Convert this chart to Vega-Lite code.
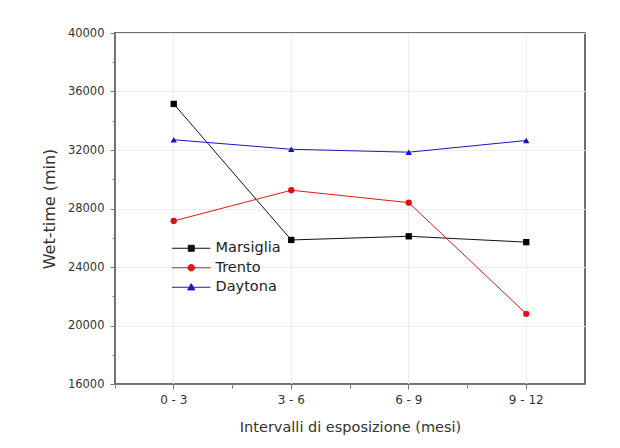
{
  "$schema": "https://vega.github.io/schema/vega-lite/v6.json",
  "width": 470,
  "height": 351,
  "autosize": {"type": "none"},
  "padding": {"left": 115, "top": 33, "right": 35, "bottom": 64},
  "background": "white",
  "config": {
    "font": "DejaVu Sans",
    "view": {"stroke": "#6f6f6f", "strokeWidth": 2},
    "axis": {"labelFont": "DejaVu Sans", "titleFont": "DejaVu Sans", "labelColor": "#333", "titleColor": "#333", "domainColor": "#777", "tickColor": "#777", "titleFontWeight": "normal"},
    "legend": {"labelFont": "DejaVu Sans"}
  },
  "data": {
    "values": [
      {"intervallo": "0 - 3", "serie": "Marsiglia", "wet": 35150},
      {"intervallo": "3 - 6", "serie": "Marsiglia", "wet": 25850},
      {"intervallo": "6 - 9", "serie": "Marsiglia", "wet": 26100},
      {"intervallo": "9 - 12", "serie": "Marsiglia", "wet": 25700},
      {"intervallo": "0 - 3", "serie": "Trento", "wet": 27150},
      {"intervallo": "3 - 6", "serie": "Trento", "wet": 29250},
      {"intervallo": "6 - 9", "serie": "Trento", "wet": 28400},
      {"intervallo": "9 - 12", "serie": "Trento", "wet": 20800},
      {"intervallo": "0 - 3", "serie": "Daytona", "wet": 32700},
      {"intervallo": "3 - 6", "serie": "Daytona", "wet": 32050},
      {"intervallo": "6 - 9", "serie": "Daytona", "wet": 31850},
      {"intervallo": "9 - 12", "serie": "Daytona", "wet": 32650}
    ]
  },
  "resolve": {"axis": {"x": "independent", "y": "independent"}},
  "layer": [
    {
      "mark": {"type": "line", "strokeWidth": 1},
      "encoding": {
        "x": {"field": "intervallo", "type": "nominal", "sort": ["0 - 3", "3 - 6", "6 - 9", "9 - 12"],
          "scale": {"type": "band", "paddingInner": 0, "paddingOuter": 0},
          "axis": {"title": "Intervalli di esposizione (mesi)", "labelAngle": 0, "labelFontSize": 12, "titleFontSize": 14.5, "tickSize": 5, "labelPadding": 5, "titlePadding": 15, "grid": true, "bandPosition": 0.5, "gridColor": "#eeeeee", "domain": true, "orient": "bottom"}},
        "y": {"field": "wet", "type": "quantitative", "scale": {"domain": [16000, 40000], "nice": false, "zero": false},
          "axis": {"title": "Wet-time (min)", "values": [16000, 20000, 24000, 28000, 32000, 36000, 40000], "format": "d", "labelFontSize": 11.5, "titleFontSize": 16, "tickSize": 5, "labelPadding": 6, "titlePadding": 10, "grid": true, "gridColor": "#eeeeee", "orient": "left"}},
        "color": {"field": "serie", "type": "nominal",
          "scale": {"domain": ["Marsiglia", "Trento", "Daytona"], "range": ["#111111", "#e01818", "#1818c0"]},
          "legend": {
            "title": null, "orient": "none", "legendX": 69, "legendY": 208, "padding": 0,
            "labelFontSize": 14.5, "labelColor": "#222", "symbolSize": 144, "symbolStrokeWidth": 1, "labelOffset": 17, "rowPadding": 4.5,
            "encode": {"symbols": {"update": {
              "shape": {"signal": "datum.value === 'Marsiglia' ? 'M-3.2,0H3.2M-0.5,-0.5H0.5V0.5H-0.5Z' : datum.value === 'Trento' ? 'M-3.2,0H3.2M0.55,0A0.55,0.55,0,1,1,-0.55,0A0.55,0.55,0,1,1,0.55,0Z' : 'M-3.2,0H3.2M0,-0.6L0.6,0.45H-0.6Z'"},
              "fill": {"signal": "datum.value === 'Marsiglia' ? '#111111' : datum.value === 'Trento' ? '#e01818' : '#1818c0'"},
              "stroke": {"signal": "datum.value === 'Marsiglia' ? '#111111' : datum.value === 'Trento' ? '#e01818' : '#1818c0'"},
              "strokeWidth": {"value": 1},
              "opacity": {"value": 1}
            }}}
          }},
        "detail": {"field": "serie"}
      }
    },
    {
      "transform": [{"filter": "datum.serie === 'Marsiglia'"}],
      "mark": {"type": "point", "filled": true, "size": 40, "opacity": 1, "shape": "square", "color": "#000000"},
      "encoding": {
        "x": {"field": "intervallo", "type": "nominal", "sort": ["0 - 3", "3 - 6", "6 - 9", "9 - 12"], "axis": null},
        "y": {"field": "wet", "type": "quantitative", "axis": null}
      }
    },
    {
      "transform": [{"filter": "datum.serie === 'Trento'"}],
      "mark": {"type": "point", "filled": true, "size": 40, "opacity": 1, "shape": "circle", "color": "#e01010"},
      "encoding": {
        "x": {"field": "intervallo", "type": "nominal", "sort": ["0 - 3", "3 - 6", "6 - 9", "9 - 12"], "axis": null},
        "y": {"field": "wet", "type": "quantitative", "axis": null}
      }
    },
    {
      "transform": [{"filter": "datum.serie === 'Daytona'"}],
      "mark": {"type": "point", "filled": true, "size": 40, "opacity": 1, "shape": "triangle-up", "color": "#1010c0"},
      "encoding": {
        "x": {"field": "intervallo", "type": "nominal", "sort": ["0 - 3", "3 - 6", "6 - 9", "9 - 12"], "axis": null},
        "y": {"field": "wet", "type": "quantitative", "axis": null}
      }
    },
    {
      "mark": {"type": "point", "opacity": 0},
      "encoding": {
        "x": {"field": "intervallo", "type": "nominal", "sort": ["0 - 3", "3 - 6", "6 - 9", "9 - 12"],
          "axis": {"orient": "bottom", "bandPosition": 0, "labels": false, "domain": false, "grid": false, "tickSize": 4, "title": null}},
        "y": {"field": "wet", "type": "quantitative",
          "axis": {"orient": "left", "values": [18000, 22000, 26000, 30000, 34000, 38000], "labels": false, "domain": false, "grid": false, "tickSize": 3, "title": null}}
      }
    }
  ]
}
